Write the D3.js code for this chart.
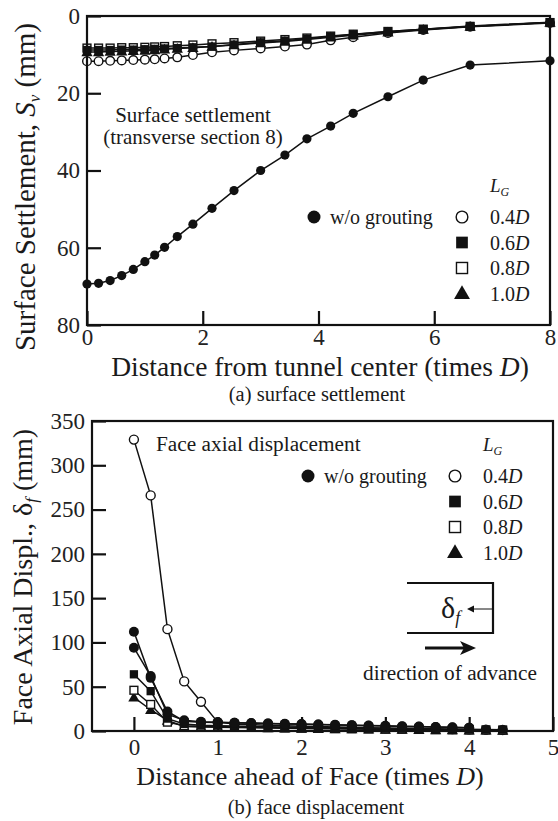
<!DOCTYPE html>
<html><head><meta charset="utf-8"><script src="https://cdn.jsdelivr.net/npm/d3@7"></script></head>
<body style="margin:0">
<script>
// ---- (a) surface settlement data ----
var topX = [0, 0.2, 0.4, 0.6, 0.8, 1.0, 1.17, 1.34, 1.56, 1.83, 2.16, 2.54, 3.0, 3.42, 3.8, 4.21, 4.6, 5.2, 5.81, 6.62, 8.0];
var topWo  = [69.4, 69.2, 68.5, 67.2, 65.6, 63.6, 61.9, 59.9, 57.1, 53.9, 49.8, 45.2, 40.0, 36.0, 31.8, 28.5, 25.2, 20.9, 16.6, 12.7, 11.6];
var top04 = [11.7, 11.7, 11.6, 11.5, 11.4, 11.3, 11.2, 11.0, 10.7, 10.1, 9.4, 8.9, 8.4, 7.9, 7.4, 6.3, 5.5, 4.4, 3.6, 2.8, 1.8];
var top06 = [8.8, 8.8, 8.8, 8.7, 8.7, 8.6, 8.5, 8.4, 8.3, 8.1, 7.9, 7.4, 6.8, 6.4, 5.9, 5.3, 4.8, 4.0, 3.4, 2.6, 1.6];
var top08 = [8.3, 8.3, 8.3, 8.2, 8.2, 8.1, 8.0, 7.9, 7.7, 7.5, 7.2, 6.9, 6.5, 6.1, 5.7, 5.2, 4.7, 4.0, 3.4, 2.7, 1.7];
var top10 = [9.3, 9.3, 9.2, 9.1, 9.0, 8.9, 8.8, 8.6, 8.4, 8.2, 7.9, 7.5, 7.0, 6.6, 6.1, 5.5, 5.0, 4.2, 3.5, 2.7, 1.7];
var topXTicks = [0, 2, 4, 6, 8];
var topYTicks = [0, 20, 40, 60, 80];

// ---- (b) face displacement data ----
var botX = [0, 0.2, 0.4, 0.6, 0.8, 1.0, 1.2, 1.4, 1.6, 1.8, 2.0, 2.2, 2.4, 2.6, 2.8, 3.0, 3.2, 3.4, 3.6, 3.8, 4.0, 4.2, 4.4];
var botWoA = [112, 60, 22, 11, 10, 9.6, 9.2, 8.8, 8.4, 8.0, 7.6, 7.2, 6.8, 6.4, 6.0, 5.6, 5.2, 4.8, 4.4, 4.0, 3.6];
var botWoB = [94, 62, 19, 12, 10.5, 9.8, 9.4, 9.0, 8.6, 8.2, 7.8, 7.4, 7.0, 6.6, 6.2, 5.8, 5.4, 5.0, 4.6, 4.2, 3.8];
var bot04 = [329, 266, 115, 56, 33, 10, 8, 7, 6.5, 6, 5.5, 5, 4.6, 4.2, 3.8, 3.4, 3, 2.7, 2.4, 2.1, 1.8, 1.5, 1.2];
var bot06 = [64, 45, 14, 8, 6.5, 6, 5.6, 5.2, 4.8, 4.5, 4.2, 3.9, 3.6, 3.3, 3, 2.8, 2.6, 2.4, 2.2, 2.0, 1.8, 1.6, 1.5];
var bot08 = [46, 30, 10, 6, 5.5, 5, 4.6, 4.2, 3.9, 3.6, 3.3, 3.0, 2.8, 2.6, 2.4, 2.2, 2.0, 1.8, 1.6, 1.4, 1.2, 1.1, 1.0];
var bot10 = [38, 24, 12, 5, 4.5, 4.2, 3.9, 3.6, 3.3, 3.0, 2.8, 2.6, 2.4, 2.2, 2.0, 1.8, 1.6, 1.4, 1.2, 1.0, 0.9, 0.8, 0.7];
var botXTicks = [0, 1, 2, 3, 4, 5];
var botYTicks = [0, 50, 100, 150, 200, 250, 300, 350];

var legendLabels = ["0.4", "0.6", "0.8", "1.0"];
var legendSymbols = ["openCircle", "square", "openSquare", "triangle"];

var FAM = "Liberation Serif";

var svg = d3.select("body").append("svg")
    .attr("width", 558)
    .attr("height", 821);

function zip(xs, ys) {
    return ys.map(function (v, i) { return [xs[i], v]; });
}

// plain text helper
function txt(g, x, y, size, s, anchor) {
    var t = g.append("text").attr("x", x).attr("y", y)
        .attr("font-family", FAM)
        .attr("font-size", size)
        .attr("fill", "#1a1a1a")
        .attr("text-anchor", anchor || "start");
    if (s) t.text(s);
    return t;
}

// draw one marker symbol
function marker(g, type, cx, cy, s) {
    if (type == "circle") {
        g.append("circle").attr("cx", cx).attr("cy", cy).attr("r", s)
            .attr("fill", "#111");
    } else if (type == "openCircle") {
        g.append("circle").attr("cx", cx).attr("cy", cy).attr("r", s * 0.9)
            .attr("fill", "#fff").attr("stroke", "#111").attr("stroke-width", 1.4);
    } else if (type == "square") {
        g.append("rect").attr("x", cx - s * 0.9).attr("y", cy - s * 0.9)
            .attr("width", s * 1.8).attr("height", s * 1.8).attr("fill", "#111");
    } else if (type == "openSquare") {
        g.append("rect").attr("x", cx - s * 0.85).attr("y", cy - s * 0.85)
            .attr("width", s * 1.7).attr("height", s * 1.7)
            .attr("fill", "#fff").attr("stroke", "#111").attr("stroke-width", 1.4);
    } else if (type == "triangle") {
        g.append("path")
            .attr("d", d3.symbol().type(d3.symbolTriangle).size(s * s * 2.6)())
            .attr("transform", "translate(" + cx + "," + (cy + 1) + ")")
            .attr("fill", "#111");
    }
}

function drawSeries(g, x, y, pts, type, s) {
    var line = d3.line()
        .x(function (d) { return x(d[0]); })
        .y(function (d) { return y(d[1]); });
    g.append("path").datum(pts)
        .attr("d", line)
        .attr("fill", "none")
        .attr("stroke", "#111")
        .attr("stroke-width", 1.5);
    pts.forEach(function (d) {
        marker(g, type, x(d[0]), y(d[1]), s);
    });
}

function drawFrame(g, x, y, xTickVals, yTickVals, xPad) {
    var x0 = x.range()[0], x1 = x.range()[1];
    var y0 = y.range()[0], y1 = y.range()[1];
    var xa = g.append("g")
        .attr("transform", "translate(0," + Math.max(y0, y1) + ")")
        .call(d3.axisBottom(x).tickValues(xTickVals).tickSize(-14).tickPadding(xPad)
            .tickFormat(d3.format("d")));
    var ya = g.append("g")
        .attr("transform", "translate(" + x0 + ",0)")
        .call(d3.axisLeft(y).tickValues(yTickVals).tickSize(-14).tickPadding(7)
            .tickFormat(d3.format("d")));
    [xa, ya].forEach(function (a) {
        a.select(".domain").remove();
        a.selectAll("line").attr("stroke", "#111").attr("stroke-width", 2.2);
        a.selectAll("text").attr("font-family", FAM).attr("font-size", 23).attr("fill", "#222");
    });
    g.append("rect")
        .attr("x", x0).attr("y", Math.min(y0, y1))
        .attr("width", x1 - x0).attr("height", Math.abs(y1 - y0))
        .attr("fill", "none").attr("stroke", "#111").attr("stroke-width", 2.2);
}

function drawLegend(g, lx, ly, step, woX, woY) {
    var t = txt(g, lx + 28, ly - 25, 19).attr("font-style", "italic");
    t.append("tspan").text("L");
    t.append("tspan").attr("dy", 4).attr("font-size", 12).text("G");
    legendLabels.forEach(function (lab, i) {
        var cy = ly + i * step;
        marker(g, legendSymbols[i], lx, cy, 6.5);
        var tx = txt(g, lx + 28, cy + 7, 20);
        tx.append("tspan").text(lab);
        tx.append("tspan").attr("font-style", "italic").text("D");
    });
    marker(g, "circle", woX, woY, 6.5);
    txt(g, woX + 16, woY + 7, 20, "w/o grouting");
}

// ================= (a) =================
var gA = svg.append("g");
var xA = d3.scaleLinear().domain([0, 8]).range([87, 550]);
var yA = d3.scaleLinear().domain([0, 80]).range([16, 325]);

drawSeries(gA, xA, yA, zip(topX, top04), "openCircle", 4.8);
drawSeries(gA, xA, yA, zip(topX, top08), "openSquare", 4.6);
drawSeries(gA, xA, yA, zip(topX, top10), "triangle", 4.6);
drawSeries(gA, xA, yA, zip(topX, top06), "square", 4.6);
drawSeries(gA, xA, yA, zip(topX, topWo), "circle", 4.6);
drawFrame(gA, xA, yA, topXTicks, topYTicks, 4);

txt(gA, 193, 122, 21, "Surface settlement", "middle");
txt(gA, 193, 144, 21, "(transverse section 8)", "middle");
drawLegend(gA, 462, 217, 25.5, 314, 217);

var xtA = txt(gA, 320, 376, 27.5, null, "middle");
xtA.append("tspan").text("Distance from tunnel center (times ");
xtA.append("tspan").attr("font-style", "italic").text("D");
xtA.append("tspan").text(")");
txt(gA, 317, 401, 20.5, "(a) surface settlement", "middle");
var tyA = txt(gA, 0, 0, 29, null, "middle")
    .attr("transform", "translate(35,187) rotate(-90)");
tyA.append("tspan").text("Surface Settlement, ");
tyA.append("tspan").attr("font-style", "italic").text("S");
tyA.append("tspan").attr("dy", 5).attr("font-size", 17).attr("font-style", "italic").text("v");
tyA.append("tspan").attr("dy", -5).text(" (mm)");

// ================= (b) =================
var gB = svg.append("g");
var xB = d3.scaleLinear().domain([-0.5, 5]).range([92, 553]);
var yB = d3.scaleLinear().domain([0, 350]).range([731, 421]);

drawSeries(gB, xB, yB, zip(botX, bot04), "openCircle", 5);
drawSeries(gB, xB, yB, zip(botX, bot10), "triangle", 4.6);
drawSeries(gB, xB, yB, zip(botX, bot08), "openSquare", 4.6);
drawSeries(gB, xB, yB, zip(botX, bot06), "square", 4.6);
drawSeries(gB, xB, yB, zip(botX, botWoB), "circle", 5);
drawSeries(gB, xB, yB, zip(botX, botWoA), "circle", 5);
drawFrame(gB, xB, yB, botXTicks, botYTicks, 8);

txt(gB, 156, 451, 21.3, "Face axial displacement");
drawLegend(gB, 455, 476, 25.5, 308, 476);

// inset sketch of the face
var ins = gB.append("g");
ins.append("path").attr("d", "M407,583 H493 V633 H407")
    .attr("fill", "none").attr("stroke", "#111").attr("stroke-width", 2.2);
ins.append("line").attr("x1", 492).attr("y1", 609).attr("x2", 472).attr("y2", 609)
    .attr("stroke", "#111").attr("stroke-width", 1);
ins.append("path").attr("d", "M467,609 L474,605.5 L474,612.5 Z").attr("fill", "#111");
var dt = txt(ins, 441, 618, 30);
dt.append("tspan").text("δ");
dt.append("tspan").attr("dy", 6).attr("font-size", 18).attr("font-style", "italic").text("f");
ins.append("line").attr("x1", 425).attr("y1", 648).attr("x2", 466).attr("y2", 648)
    .attr("stroke", "#111").attr("stroke-width", 3.2);
ins.append("path").attr("d", "M476,648 L460,641 L464,648 L460,655 Z").attr("fill", "#111");
txt(ins, 450, 680, 21.3, "direction of advance", "middle");

var xtB = txt(gB, 310, 785, 26, null, "middle");
xtB.append("tspan").text("Distance ahead of Face (times ");
xtB.append("tspan").attr("font-style", "italic").text("D");
xtB.append("tspan").text(")");
txt(gB, 316, 814, 20.5, "(b) face displacement", "middle");
var tyB = txt(gB, 0, 0, 28, null, "middle")
    .attr("transform", "translate(32,577) rotate(-90)");
tyB.append("tspan").text("Face Axial Displ., δ");
tyB.append("tspan").attr("dy", 5).attr("font-size", 17).attr("font-style", "italic").text("f");
tyB.append("tspan").attr("dy", -5).text(" (mm)");
</script>
</body>
</html>
